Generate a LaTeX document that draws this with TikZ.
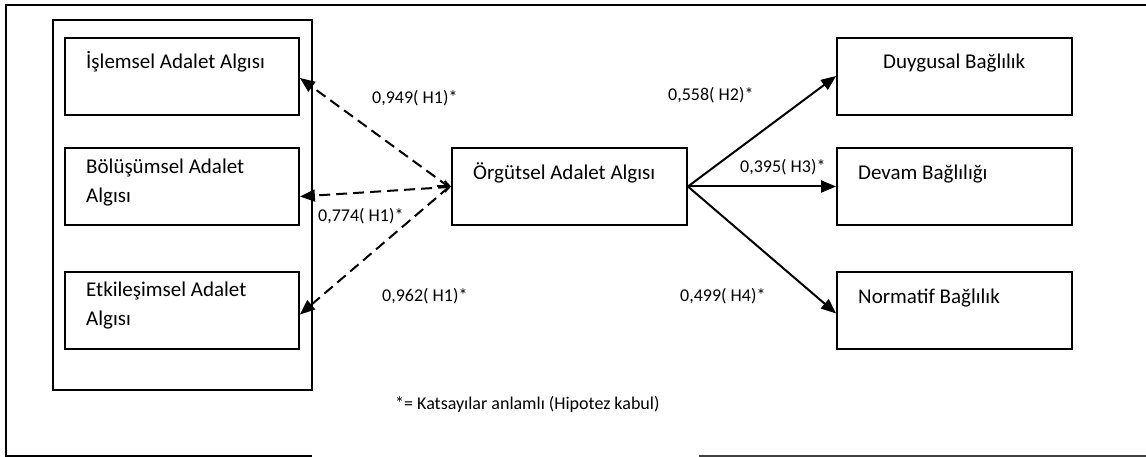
\documentclass[tikz,border=0pt]{standalone}
\usepackage{fontspec}
\setmainfont{Carlito}
\usetikzlibrary{arrows.meta}
\tikzset{
  boxnode/.style={draw, line width=1.8pt, minimum width=234pt, minimum height=77pt, inner sep=0pt},
  groupnode/.style={draw, line width=1.8pt, minimum width=259pt, minimum height=370pt, inner sep=0pt},
  boxtext/.style={anchor=base west, inner sep=0pt, font=\fontsize{21}{29}\selectfont, align=left},
  coef/.style={anchor=base west, inner sep=0pt, font=\fontsize{18}{22}\selectfont},
  dasharrow/.style={line width=2pt, dash pattern=on 11pt off 6pt, -{Triangle[length=15pt,width=12pt]}},
  solidarrow/.style={line width=2pt, -{Triangle[length=15pt,width=12pt]}},
  frameline/.style={line width=1.8pt}
}
\begin{document}
\begin{tikzpicture}[x=1pt,y=-1pt]
\useasboundingbox (0,0) rectangle (1146,457);
% outer frame (open on the right and in the middle of the bottom)
\coordinate (fTR) at (1146,5);
\coordinate (fTL) at (6,5);
\coordinate (fBL) at (6,456);
\coordinate (fB1) at (312,456);
\coordinate (fB2) at (699,456);
\coordinate (fBR) at (1146,456);
\draw[frameline] (fTR) -- (fTL) -- (fBL) -- (fB1);
\draw[line width=1.2pt, draw=black!75] (fB2) -- (fBR);
% left group
\node[groupnode] (grp) at (182.5,205) {};
\node[boxnode] (b1) at (182,76.5) {};
\node[boxnode] (b2) at (182,186.5) {};
\node[boxnode] (b3) at (182,310.5) {};
\node[boxtext] (t1) at (86,69) {İşlemsel Adalet Algısı};
\node[boxtext, anchor=north west] (t2) at (86,159) {Bölüşümsel Adalet\\Algısı};
\node[boxtext, anchor=north west] (t3) at (86,282) {Etkileşimsel Adalet\\Algısı};
% center
\node[boxnode, minimum width=235pt] (c) at (569.5,186.5) {};
\node[boxtext] (tc) at (473,180) {Örgütsel Adalet Algısı};
% right
\node[boxnode, minimum width=235pt] (r1) at (954.5,76.5) {};
\node[boxnode, minimum width=235pt] (r2) at (954.5,186.5) {};
\node[boxnode, minimum width=235pt] (r3) at (954.5,310.5) {};
\node[boxtext] (tr1) at (883,69) {Duygusal Bağlılık};
\node[boxtext] (tr2) at (858,180) {Devam Bağlılığı};
\node[boxtext] (tr3) at (858,303) {Normatif Bağlılık};
% connectors
\coordinate (cl) at (449,187);
\draw[dasharrow] (cl) -- ([yshift=-1.5pt]b1.east);
\draw[dasharrow] (cl) -- ([yshift=-10pt]b2.east);
\draw[line width=2pt, -{Straight Barb[length=5pt,width=11pt]}] ([xshift=-14pt]c.west) -- (c.west);
\draw[dasharrow] (cl) -- ([yshift=-4pt]b3.east);
\draw[solidarrow] (c.east) -- ([yshift=0.5pt]r1.west);
\draw[solidarrow] (c.east) -- (r2.west);
\draw[solidarrow] (c.east) -- ([yshift=-3pt]r3.west);
% coefficients
\node[coef] (k1) at (372,104) {0,949( H1)*};
\node[coef] (k2) at (318,222) {0,774( H1)*};
\node[coef] (k3) at (382,301) {0,962( H1)*};
\node[coef] (k4) at (668,101) {0,558( H2)*};
\node[coef] (k5) at (740,173) {0,395( H3)*};
\node[coef] (k6) at (680,301) {0,499( H4)*};
\node[coef] (note) at (395,409) {*= Katsayılar anlamlı (Hipotez kabul)};
\end{tikzpicture}
\end{document}
